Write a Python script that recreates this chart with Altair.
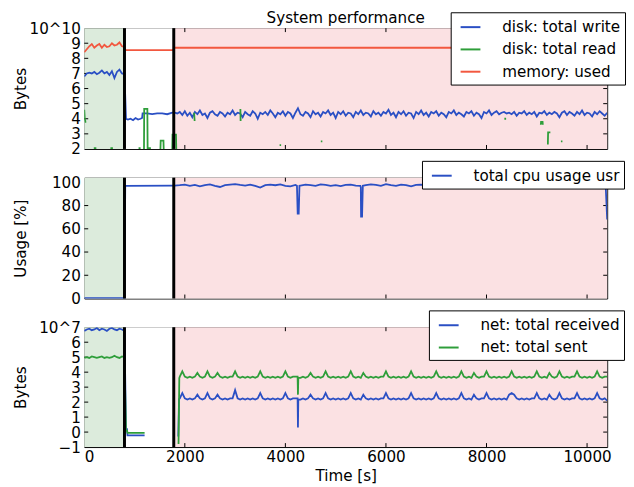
import altair as alt
import pandas as pd

FONT = "DejaVu Sans"
FS = 15.3
BLUE = "#2a4fc4"
GREEN = "#2e9e3a"
RED = "#f2573f"

W = 528
H1, H2, H3 = 122, 122, 121
X_MAX = 10400

# ---------------- shared x / phases ----------------
phase_start = [0, 800, 1780]
phase_end = [800, 1780, 10400]
phase_fill = ["#dcebdc", "#ffffff", "#fbe1e3"]
phase_bounds = [800, 1780]
x_ticks = [0, 2000, 4000, 6000, 8000, 10000]
x_inner_ticks = [2000, 4000, 6000, 8000, 10000]

# ---------------- panel 1 : disk / memory (x 1e10 bytes) ----------------
p1_names = ["disk: total write", "disk: total read", "memory: used"]
p1_colors = [BLUE, GREEN, RED]
p1_y_ticks = [2, 3, 4, 5, 6, 7, 8, 9, 10]

mem_t = [0, 50, 100, 150, 200, 250, 300, 350, 400, 450, 500, 550, 600, 650, 700,
         750, 800, 820, 1770, 1790, 10400]
mem_v = [8.40, 8.60, 8.80, 8.95, 8.70, 8.85, 8.95, 8.70, 8.90, 8.75, 8.80, 9.00,
         8.85, 8.90, 9.05, 8.80, 8.75, 8.55, 8.55, 8.70, 8.70]

dw_early_t = [0, 50, 100, 150, 200, 250, 300, 350, 400, 450, 500, 550, 600, 650,
              700, 750, 800, 830, 870, 920, 970, 1020, 1070, 1120, 1150, 1160,
              1250, 1350, 1450, 1550, 1650, 1750]
dw_early_v = [6.80, 7.00, 7.05, 7.00, 7.10, 6.95, 7.05, 7.20, 7.00, 7.10, 6.90,
              7.15, 6.70, 7.10, 7.25, 7.00, 6.95, 4.00, 3.95, 4.00, 3.90, 4.05,
              3.95, 4.00, 4.05, 4.35, 4.35, 4.30, 4.35, 4.35, 4.30, 4.40]
dw_run_t = list(range(1800, 10401, 50))
dw_run_v = [
    4.40, 4.35, 4.45, 4.25, 4.50, 4.20, 4.40, 4.10, 4.45, 4.30,
    4.55, 4.25, 4.35, 4.05, 4.40, 4.50, 4.30, 4.20, 4.45, 4.35,
    4.15, 4.40, 4.30, 4.55, 4.25, 4.40, 4.35, 4.10, 4.45, 4.30,
    4.20, 4.50, 4.35, 4.00, 4.40, 4.30, 4.45, 4.25, 4.55, 4.35,
    4.10, 4.40, 4.30, 4.50, 4.20, 4.45, 4.35, 4.05, 4.40, 4.70,
    4.30, 4.20, 4.45, 4.35, 4.10, 4.50, 4.30, 4.40, 4.15, 4.45,
    4.35, 4.55, 4.25, 4.40, 4.05, 4.45, 4.30, 4.50, 4.20, 4.40,
    4.35, 4.10, 4.45, 4.30, 4.55, 4.25, 4.40, 4.35, 4.15, 4.50,
    4.30, 4.40, 4.20, 4.45, 4.35, 4.60, 4.25, 4.40, 4.10, 4.45,
    4.30, 4.50, 4.20, 4.40, 4.35, 4.05, 4.45, 4.30, 4.55, 4.25,
    4.40, 4.15, 4.45, 4.35, 4.50, 4.20, 4.40, 4.30, 4.10, 4.45,
    4.35, 4.55, 4.25, 4.40, 4.30, 4.15, 4.45, 4.35, 4.50, 4.20,
    4.40, 4.30, 4.05, 4.45, 4.35, 4.55, 4.25, 4.40, 4.50, 4.30,
    4.40, 4.45, 4.35, 4.40, 4.30, 4.45, 4.20, 4.40, 4.35, 4.50,
    4.25, 4.40, 4.30, 4.45, 4.15, 4.40, 4.35, 4.50, 4.25, 4.40,
    4.30, 4.45, 4.35, 4.10, 4.40, 4.50, 4.25, 4.45, 4.35, 4.20,
    4.45, 4.30, 4.55, 4.25, 4.40, 4.35, 4.15, 4.45, 4.30, 4.50,
    4.35, 4.20, 4.40,
]

# disk read: short visible pieces (segment id, time, value)
dr_seg = [1, 1, 1, 1,
          2, 2, 3, 3, 4, 4,
          5, 5, 5, 5, 5,
          6, 6, 6, 6,
          7, 7, 7, 7,
          8, 8, 9, 9, 10, 10, 11, 11, 12, 12,
          13, 13, 13, 13,
          14, 14, 14,
          15, 15]
dr_t = [0, 10, 25, 40,
        190, 240, 520, 570, 1080, 1120,
        1188, 1192, 1255, 1260, 1325,
        1515, 1520, 1575, 1580,
        1750, 1755, 1825, 1830,
        2185, 2195, 3105, 3110, 3885, 3915, 4705, 4735, 8355, 8390,
        9080, 9085, 9115, 9120,
        9220, 9225, 9270,
        9480, 9510]
dr_v = [4.60, 4.00, 3.80, 3.80,
        2.05, 2.05, 2.05, 2.05, 2.05, 2.05,
        1.90, 4.65, 4.65, 2.05, 2.05,
        2.00, 2.55, 2.55, 2.00,
        1.90, 2.95, 2.95, 1.90,
        4.40, 3.85, 4.65, 3.85, 2.25, 2.25, 2.50, 2.50, 4.00, 4.00,
        3.60, 3.80, 3.80, 3.60,
        2.30, 3.10, 3.10,
        2.50, 2.50]

# ---------------- panel 2 : cpu usage (%) ----------------
p2_names = ["total cpu usage usr"]
p2_colors = [BLUE]
p2_y_ticks = [0, 20, 40, 60, 80, 100]

cpu_early_t = [0, 800, 815, 1790]
cpu_early_v = [0.3, 0.3, 97.0, 97.2]
cpu_run_t = list(range(1800, 10401, 100))
cpu_run_v = [
    97.2, 97.5, 98.0, 97.0, 97.8, 96.5, 97.5, 98.2, 97.0, 96.0,
    97.5, 98.0, 98.5, 97.8, 97.2, 98.0, 97.0, 95.5, 97.5, 98.0,
    97.5, 98.2, 97.0, 96.5, 97.8, 97.2, 98.0, 97.5, 97.0, 98.3,
    97.8, 97.0, 97.5, 96.8, 97.8, 98.0, 97.2, 95.8, 97.5, 98.2,
    97.8, 97.0, 98.5, 97.5, 97.0, 98.0, 97.5, 96.5, 97.8, 98.0,
    97.2, 97.8, 97.0, 98.2, 97.5, 96.8, 97.8, 97.5, 98.0, 95.5,
    97.5, 97.8, 96.0, 97.5, 98.0, 97.2, 95.8, 97.8, 97.5, 96.5,
    97.8, 98.0, 97.2, 97.5, 98.2, 97.0, 97.8, 97.5, 98.0, 97.2,
    97.5, 98.0, 97.2, 97.8, 97.5, 97.0,
    68.0,
]
cpu_dip_t = [4230, 4245, 4265, 4280, 5490, 5505, 5525, 5540, 10370]
cpu_dip_v = [97.0, 73.0, 73.0, 97.0, 97.0, 70.5, 70.5, 97.0, 97.2]

# ---------------- panel 3 : network (x 1e7 bytes) ----------------
p3_names = ["net: total received", "net: total sent"]
p3_colors = [BLUE, GREEN]
p3_y_ticks = [-1, 0, 1, 2, 3, 4, 5, 6, 7]

net_early_t = [0, 50, 100, 150, 200, 250, 300, 350, 400, 450, 500, 550, 600, 650,
               700, 750, 800, 830, 850, 860, 1200]
recv_early_v = [6.75, 6.85, 6.90, 6.80, 6.85, 6.95, 6.80, 6.90, 6.85, 6.75, 6.90,
                6.95, 6.85, 6.80, 6.90, 6.85, 6.75, 0.20, 0.20, -0.22, -0.22]
sent_early_v = [4.95, 5.00, 4.95, 5.05, 5.00, 4.95, 5.00, 5.05, 4.95, 5.00, 4.95,
                5.00, 5.10, 5.00, 4.95, 5.05, 5.00, 0.10, 0.10, -0.05, -0.05]
recv_start_t = [1870, 1885]
recv_start_v = [-0.30, 2.20]
sent_start_t = [1875, 1890]
sent_start_v = [-0.80, 3.60]
net_run_t = list(range(1900, 10401, 50))
sent_run_v = [
    3.70, 4.05, 3.70, 3.62, 3.70, 3.62, 3.70, 3.95, 3.70, 3.62,
    3.70, 4.05, 3.70, 3.62, 3.70, 3.95, 3.70, 3.62, 3.70, 3.62,
    3.70, 3.70, 4.05, 3.70, 3.62, 3.70, 3.62, 3.70, 3.62, 3.70,
    3.62, 3.70, 4.05, 3.70, 3.62, 3.70, 3.62, 3.70, 3.62, 3.70,
    3.62, 3.70, 4.05, 3.70, 3.62, 3.70, 3.70, 2.50, 3.62, 3.70,
    3.62, 3.70, 3.95, 3.70, 3.62, 3.70, 3.62, 3.70, 4.05, 3.70,
    3.62, 3.70, 3.62, 3.70, 3.62, 3.70, 3.62, 3.70, 4.05, 3.70,
    3.62, 3.70, 3.62, 3.95, 3.70, 3.62, 3.70, 3.62, 3.70, 3.62,
    3.70, 3.70, 4.05, 3.70, 3.62, 3.70, 3.62, 3.70, 3.62, 3.70,
    3.62, 3.70, 4.05, 3.70, 3.62, 3.70, 3.62, 3.70, 3.62, 3.70,
    3.62, 3.70, 4.05, 3.70, 3.62, 3.70, 3.62, 3.70, 3.62, 3.70,
    3.62, 3.70, 4.05, 3.70, 3.62, 3.70, 3.62, 3.95, 3.70, 3.62,
    3.70, 3.70, 4.05, 3.70, 3.62, 3.70, 3.62, 3.70, 3.62, 3.70,
    3.62, 3.70, 4.05, 3.70, 3.62, 3.70, 3.62, 3.70, 3.62, 3.70,
    3.62, 3.70, 4.05, 3.70, 3.62, 3.70, 3.62, 3.95, 3.70, 3.62,
    3.70, 4.05, 3.70, 3.62, 3.70, 3.62, 3.70, 3.70, 4.05, 3.70,
    3.62, 3.70, 3.62, 3.70, 3.62, 3.70, 4.05, 3.70, 3.62, 3.70,
    3.70,
]
recv_run_v = [
    2.25, 2.60, 2.25, 2.17, 2.25, 2.17, 2.25, 2.50, 2.25, 2.17,
    2.25, 2.60, 2.25, 2.17, 2.25, 2.50, 2.25, 2.17, 2.25, 2.17,
    2.25, 2.25, 2.80, 2.25, 2.17, 2.25, 2.17, 2.25, 2.17, 2.25,
    2.17, 2.25, 2.60, 2.25, 2.17, 2.25, 2.17, 2.25, 2.17, 2.25,
    2.17, 2.25, 2.60, 2.25, 2.17, 2.25, 2.25, 0.30, 2.17, 2.25,
    2.17, 2.25, 2.50, 2.25, 2.17, 2.25, 2.17, 2.25, 2.60, 2.25,
    2.17, 2.25, 2.17, 2.25, 2.17, 2.25, 2.17, 2.25, 2.60, 2.25,
    2.17, 2.25, 2.17, 2.50, 2.25, 2.17, 2.25, 2.17, 2.25, 2.17,
    2.25, 2.25, 2.60, 2.25, 2.17, 2.25, 2.17, 2.25, 2.17, 2.25,
    2.17, 2.25, 2.60, 2.25, 2.17, 2.25, 2.17, 2.25, 2.17, 2.25,
    2.17, 2.25, 2.60, 2.25, 2.17, 2.25, 2.17, 2.25, 2.17, 2.25,
    2.17, 2.25, 2.60, 2.25, 2.17, 2.25, 2.17, 2.50, 2.25, 2.17,
    2.25, 2.25, 2.60, 2.25, 2.17, 2.25, 2.17, 2.25, 2.17, 2.25,
    2.17, 2.50, 2.60, 2.50, 2.25, 2.17, 2.25, 2.17, 2.25, 2.17,
    2.25, 2.25, 2.60, 2.25, 2.17, 2.25, 2.17, 2.50, 2.25, 2.17,
    2.25, 2.60, 2.25, 2.17, 2.25, 2.17, 2.25, 2.25, 2.60, 2.25,
    2.17, 2.25, 2.17, 2.25, 2.17, 2.25, 2.60, 2.25, 2.17, 2.25,
    2.10,
]
# shoulders that make the drop near t=4250 a sharp spike
net_dip_t = [4243, 4257]
sent_dip_v = [3.70, 3.62]
recv_dip_v = [2.25, 2.17]


# ---------------- assemble tables ----------------
def rows(series, seg, ts, vs):
    assert len(ts) == len(vs), (series, seg, len(ts), len(vs))
    return [{"series": series, "seg": f"{series}-{seg}", "t": t, "v": v} for t, v in zip(ts, vs)]


p1_rows = []
p1_rows += rows("memory: used", 0, mem_t, mem_v)
p1_rows += rows("disk: total write", 0, dw_early_t + dw_run_t, dw_early_v + dw_run_v)
for s, t, v in zip(dr_seg, dr_t, dr_v):
    p1_rows += rows("disk: total read", s, [t], [v])
p1_df = pd.DataFrame(p1_rows)

p2_df = pd.DataFrame(rows("total cpu usage usr", 0,
                          cpu_early_t + cpu_run_t + cpu_dip_t,
                          cpu_early_v + cpu_run_v + cpu_dip_v))

p3_rows = []
p3_rows += rows("net: total received", "a", net_early_t, recv_early_v)
p3_rows += rows("net: total received", "b", recv_start_t + net_run_t + net_dip_t,
                recv_start_v + recv_run_v + recv_dip_v)
p3_rows += rows("net: total sent", "a", net_early_t, sent_early_v)
p3_rows += rows("net: total sent", "b", sent_start_t + net_run_t + net_dip_t,
                sent_start_v + sent_run_v + sent_dip_v)
p3_df = pd.DataFrame(p3_rows)

xtick_df = pd.DataFrame({"v": x_inner_ticks})


def xenc(field, show):
    if show:
        axis = alt.Axis(values=x_ticks, format="d", labelFontSize=FS, labelColor="black",
                        labelFont=FONT, labelPadding=3, labelOverlap=False, ticks=False,
                        domain=False, grid=False,
                        title="Time [s]", titleFontSize=FS, titleFontWeight="normal",
                        titleColor="black", titleFont=FONT, titlePadding=3)
    else:
        axis = None
    return alt.X(f"{field}:Q", scale=alt.Scale(domain=[0, X_MAX], nice=False, zero=False), axis=axis)


def yenc(field, dom, ticks, title, expr):
    ax = dict(values=ticks, format="d", labelFontSize=FS, labelColor="black", labelFont=FONT,
              labelPadding=4, labelOverlap=False, ticks=False, domain=False, grid=False,
              title=title, titleFontSize=FS, titleFontWeight="normal", titleColor="black",
              titleFont=FONT, titleX=-56)
    if expr:
        ax["labelExpr"] = expr
    return alt.Y(f"{field}:Q", scale=alt.Scale(domain=dom, nice=False, zero=False),
                 axis=alt.Axis(**ax))


def panel(df, names, colors, dom, ticks, title, expr, H, lx, ly, show_x):
    X = lambda f: xenc(f, show_x)
    Y = lambda f: yenc(f, dom, ticks, title, expr)
    phase_df = pd.DataFrame({"start": phase_start, "end": phase_end, "fill": phase_fill,
                             "lo": dom[0], "hi": dom[1]})
    bounds_df = pd.DataFrame({"b": phase_bounds, "lo": dom[0], "hi": dom[1]})
    ytick_df = pd.DataFrame({"v": ticks[1:-1]})
    bg = alt.Chart(phase_df).mark_rect().encode(
        x=X("start"), x2="end", y=Y("lo"), y2="hi",
        fill=alt.Fill("fill:N", scale=None))
    t_top = alt.Chart(xtick_df).mark_rule(color="black", strokeWidth=1).encode(
        x=X("v"), y=alt.value(0), y2=alt.value(4))
    t_bot = alt.Chart(xtick_df).mark_rule(color="black", strokeWidth=1).encode(
        x=X("v"), y=alt.value(H - 4), y2=alt.value(H))
    t_left = alt.Chart(ytick_df).mark_rule(color="black", strokeWidth=1).encode(
        y=Y("v"), x=alt.value(0), x2=alt.value(4))
    t_right = alt.Chart(ytick_df).mark_rule(color="black", strokeWidth=1).encode(
        y=Y("v"), x=alt.value(W - 4), x2=alt.value(W))
    lines = alt.Chart(df).mark_line(strokeWidth=1.8, clip=True).encode(
        x=X("t"), y=Y("v"),
        color=alt.Color("series:N", scale=alt.Scale(domain=names, range=colors),
                        legend=alt.Legend(orient="none", legendX=lx, legendY=ly, title=None,
                                          symbolType="stroke", symbolSize=400,
                                          symbolStrokeWidth=2, symbolOffset=5,
                                          labelFontSize=FS, labelFont=FONT, labelColor="black",
                                          labelOffset=21, padding=4, rowPadding=2.5,
                                          strokeColor="black", fillColor="white",
                                          cornerRadius=0)),
        detail="seg:N", order="t:Q")
    rules = alt.Chart(bounds_df).mark_rule(color="black", strokeWidth=3).encode(
        x=X("b"), y=Y("lo"), y2="hi")
    return alt.layer(bg, t_top, t_bot, t_left, t_right, lines, rules).properties(width=W, height=H)


p1 = panel(p1_df, p1_names, p1_colors, [2, 10], p1_y_ticks, "Bytes",
           "datum.value == 10 ? '10^10' : datum.label", H1, 370, -16, False).properties(
    title=alt.TitleParams("System performance", fontSize=FS, font=FONT, fontWeight="normal",
                          color="black", anchor="middle", offset=-15))
p2 = panel(p2_df, p2_names, p2_colors, [0, 104], p2_y_ticks, "Usage [%]", None,
           H2, 341, -17, False)
p3 = panel(p3_df, p3_names, p3_colors, [-1, 7], p3_y_ticks, "Bytes",
           "datum.value == 7 ? '10^7' : datum.label", H3, 348, -17, True)

chart = alt.vconcat(p1, p2, p3, spacing=2).resolve_scale(
    color="independent", y="independent", x="shared").properties(
    padding={"left": 5, "top": 0, "right": 0, "bottom": 0}).configure(
    font=FONT).configure_view(stroke="black", strokeWidth=1)

chart.save("out.html", embed_options={"renderer": "svg", "actions": False})
